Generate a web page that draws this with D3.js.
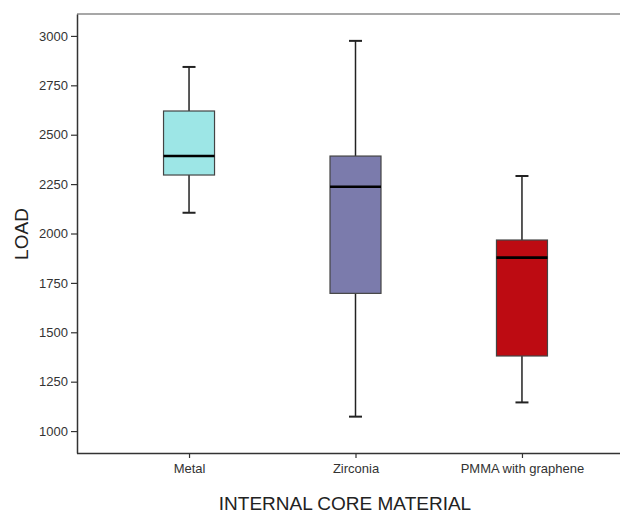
<!DOCTYPE html>
<html><head><meta charset="utf-8">
<script src="https://cdn.jsdelivr.net/npm/d3@7"></script>
<style>body{margin:0;background:#fff}svg{display:block}text{font-family:"Liberation Sans",Arial,sans-serif}</style>
</head><body><svg id="c" width="620" height="516"></svg>
<script>
const categories = ["Metal","Zirconia","PMMA with graphene"];
const whiskerLow = [2105, 1073, 1145];
const q1 = [2296, 1697, 1380];
const median = [2392, 2237, 1878];
const q3 = [2620, 2392, 1967];
const whiskerHigh = [2843, 2975, 2291];
const colors = ["#9de6e6","#7b7bac","#bd0b12"];
const yTicks = [1000,1250,1500,1750,2000,2250,2500,2750,3000];

const svg = d3.select("#c");
const L=77, T=14, B=453, R=634;
const y = d3.scaleLinear().domain([889,3111]).range([B,T]);
const x = d3.scalePoint().domain(categories).range([L,R]).padding(0.673);
const boxW = 51, capW = 13;

svg.append("line").attr("x1",L).attr("x2",620).attr("y1",T).attr("y2",T).attr("stroke","#8a8a8a").attr("stroke-width",1.5);

const data = categories.map((c,i)=>({c,lo:whiskerLow[i],q1:q1[i],med:median[i],q3:q3[i],hi:whiskerHigh[i],col:colors[i]}));
const g = svg.append("g");
const bx = g.selectAll("g.box").data(data).join("g");
bx.append("line").attr("x1",d=>x(d.c)).attr("x2",d=>x(d.c)).attr("y1",d=>y(d.hi)).attr("y2",d=>y(d.q3)).attr("stroke","#222").attr("stroke-width",1.5);
bx.append("line").attr("x1",d=>x(d.c)).attr("x2",d=>x(d.c)).attr("y1",d=>y(d.q1)).attr("y2",d=>y(d.lo)).attr("stroke","#222").attr("stroke-width",1.5);
bx.append("line").attr("x1",d=>x(d.c)-capW/2).attr("x2",d=>x(d.c)+capW/2).attr("y1",d=>y(d.hi)).attr("y2",d=>y(d.hi)).attr("stroke","#222").attr("stroke-width",2);
bx.append("line").attr("x1",d=>x(d.c)-capW/2).attr("x2",d=>x(d.c)+capW/2).attr("y1",d=>y(d.lo)).attr("y2",d=>y(d.lo)).attr("stroke","#222").attr("stroke-width",2);
bx.append("rect").attr("x",d=>x(d.c)-boxW/2).attr("width",boxW).attr("y",d=>y(d.q3)).attr("height",d=>y(d.q1)-y(d.q3)).attr("fill",d=>d.col).attr("stroke","#444").attr("stroke-width",1.2);
bx.append("line").attr("x1",d=>x(d.c)-boxW/2).attr("x2",d=>x(d.c)+boxW/2).attr("y1",d=>y(d.med)).attr("y2",d=>y(d.med)).attr("stroke","#000").attr("stroke-width",2.6);

const ya = svg.append("g").attr("transform",`translate(${L},0)`).call(d3.axisLeft(y).tickValues(yTicks).tickFormat(d3.format("d")).tickSize(6).tickSizeOuter(0).tickPadding(3));
ya.select(".domain").attr("stroke","#333").attr("stroke-width",1.5);
ya.selectAll(".tick line").attr("stroke","#333").attr("stroke-width",1.2);
ya.selectAll("text").attr("font-size",13).attr("fill","#333");
const xa = svg.append("g").attr("transform",`translate(0,${B})`).call(d3.axisBottom(x).tickSize(5).tickSizeOuter(0).tickPadding(6));
xa.select(".domain").attr("d",`M${L},0.5H620`).attr("stroke","#333").attr("stroke-width",1.5);
xa.selectAll(".tick line").attr("stroke","#333").attr("stroke-width",1.2);
xa.selectAll("text").attr("font-size",13).attr("fill","#333");

svg.append("text").attr("transform","translate(28,234) rotate(-90)").attr("text-anchor","middle").attr("font-size",19).attr("fill","#222").text("LOAD");
svg.append("text").attr("x",345).attr("y",510).attr("text-anchor","middle").attr("font-size",19).attr("fill","#222").text("INTERNAL CORE MATERIAL");
</script></body></html>
